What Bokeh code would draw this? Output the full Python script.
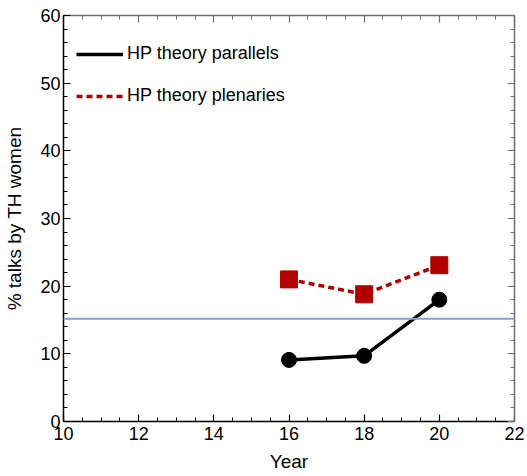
from bokeh.plotting import figure
from bokeh.models import (Span, Legend, LegendItem, LinearAxis, FixedTicker, Range1d)
from bokeh.embed import file_html
from bokeh.resources import INLINE

years = [16, 18, 20]
parallels = [9.1, 9.7, 18.0]
plenaries = [21.0, 18.8, 23.1]
baseline = 15.2
x_ticks = [10, 12, 14, 16, 18, 20, 22]
y_ticks = [0, 10, 20, 30, 40, 50, 60]

FONT = "Liberation Sans"
RED = "#b00000"

p = figure(width=527, height=476, output_backend="svg", toolbar_location=None,
           x_range=Range1d(10, 22), y_range=Range1d(0, 60),
           min_border_left=63, min_border_right=13, min_border_top=15, min_border_bottom=55)
p.grid.visible = False
p.outline_line_color = None
p.background_fill_color = "white"

def style(ax, ticks, minor, show_labels, color):
    ax.ticker = FixedTicker(ticks=ticks, minor_ticks=minor)
    ax.major_tick_in = 7
    ax.major_tick_out = 0
    ax.minor_tick_in = 4
    ax.minor_tick_out = 0
    ax.axis_line_color = color
    ax.major_tick_line_color = color
    ax.minor_tick_line_color = color
    ax.axis_line_width = 1.5
    ax.major_tick_line_width = 1.2
    ax.minor_tick_line_width = 1
    ax.major_label_text_font = FONT
    if show_labels:
        ax.major_label_text_font_size = "18px"
        ax.major_label_text_color = "black"
    else:
        ax.major_label_text_font_size = "1px"
        ax.major_label_text_color = None
        ax.major_label_standoff = 0
    ax.axis_label_text_font = FONT
    ax.axis_label_text_font_style = "normal"
    ax.axis_label_text_font_size = "19px"
    ax.axis_label_text_color = "black"

x_minor = [10 + 0.5 * i for i in range(25)]
y_minor = [2 * i for i in range(31)]

xa = p.xaxis[0]
style(xa, x_ticks, x_minor, True, "black")
xa.axis_label = "Year"
xa.major_label_standoff = 5
xa.axis_label_standoff = 8

ya = p.yaxis[0]
style(ya, y_ticks, y_minor, True, "black")
ya.axis_label = "% talks by TH women"
ya.major_label_standoff = 3
ya.axis_label_standoff = 12

top = LinearAxis()
style(top, x_ticks, x_minor, False, "#707070")
p.add_layout(top, "above")

right = LinearAxis()
style(right, y_ticks, y_minor, False, "#707070")
p.add_layout(right, "right")

p.add_layout(Span(location=baseline, dimension="width", line_color="#7fa2d6", line_width=2))

l1 = p.line(years, parallels, line_color="black", line_width=3.5)
p.scatter(years, parallels, marker="circle", size=15, fill_color="black", line_color="black")

l2 = p.line(years, plenaries, line_color=RED, line_width=3.5, line_dash="6 4")
p.scatter(years, plenaries, marker="square", size=17, fill_color=RED, line_color=RED)

legend = Legend(items=[LegendItem(label="HP theory parallels", renderers=[l1]),
                       LegendItem(label="HP theory plenaries", renderers=[l2])],
                location=(13, 315), orientation="vertical")
legend.border_line_color = None
legend.background_fill_alpha = 0
legend.padding = 0
legend.margin = 0
legend.glyph_width = 47
legend.glyph_height = 20
legend.label_height = 20
legend.spacing = 21
legend.label_standoff = 4
legend.label_text_font = FONT
legend.label_text_font_size = "18px"
legend.label_text_color = "black"
p.add_layout(legend, "center")

open("out.html", "w").write(file_html(p, INLINE))
